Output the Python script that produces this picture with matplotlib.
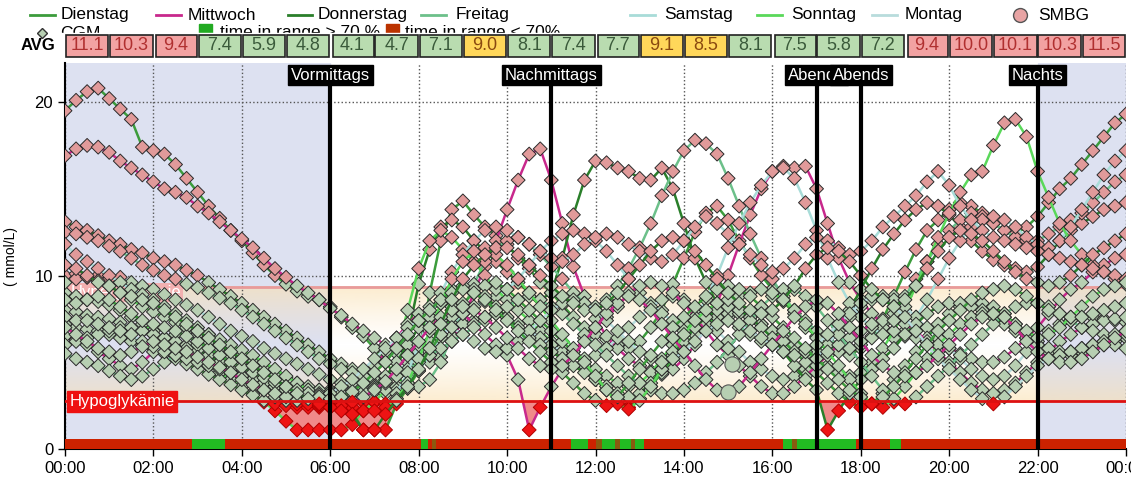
import numpy as np
import matplotlib.pyplot as plt
import matplotlib.transforms as mtransforms
from matplotlib.lines import Line2D
from matplotlib.patches import Rectangle

plt.rcParams['font.family'] = ['Liberation Sans', 'DejaVu Sans']

# Zeitraster: 15-Minuten-Werte von 00:00 bis 24:00
zeiten = np.arange(97) * 0.25

# CGM-Verläufe (mmol/L), je Stunde 4 Werte
t1 = [19.5, 20.1, 20.6, 20.8, 20.2, 19.6, 19.0, 17.4, 17.2, 17.0, 16.4, 15.6,
      14.8, 14.0, 13.3, 12.6, 12.0, 11.3, 10.6, 10.0, 9.5, 9.1, 8.8, 8.6,
      8.2, 7.6, 7.0, 6.5, 5.8, 5.0, 4.2, 3.6, 5.5, 9.0, 12.0, 13.8,
      14.3, 13.5, 12.8, 12.3, 11.8, 11.0, 10.4, 9.6, 9.0, 8.3, 7.6, 7.0,
      6.6, 6.3, 6.0, 5.8, 6.2, 7.0, 8.0, 9.5, 11.0, 12.5, 13.6, 14.0,
      13.2, 12.0, 11.0, 10.0, 9.2, 8.5, 7.8, 7.0, 6.5, 6.0, 5.6, 5.4,
      5.8, 6.5, 7.5, 8.8, 10.2, 11.5, 12.6, 13.2, 13.8, 14.2, 14.0, 13.6,
      13.0, 12.6, 12.4, 12.8, 13.4, 14.2, 15.0, 15.6, 16.4, 17.2, 18.0, 18.8,
      19.3]
t2 = [16.9, 17.3, 17.5, 17.4, 17.1, 16.6, 16.2, 15.8, 15.4, 15.0, 14.8, 14.5,
      14.0, 13.6, 13.1, 12.6, 12.1, 11.6, 11.0, 10.4, 9.9, 9.4, 9.0, 8.6,
      8.1, 7.7, 7.2, 6.8, 6.4, 6.0, 5.7, 5.4, 5.2, 5.0, 5.3, 6.2,
      7.5, 9.0, 10.5, 12.0, 13.8, 15.5, 17.0, 17.3, 15.5, 13.0, 10.5, 8.8,
      7.5, 6.5, 5.8, 5.2, 4.8, 4.5, 4.3, 4.6, 5.2, 6.0, 7.0, 8.4,
      10.0, 11.8, 13.5, 15.0, 16.0, 16.3, 16.2, 16.3, 15.0, 13.0, 11.0, 9.6,
      8.6, 7.8, 7.2, 6.8, 6.5, 6.4, 6.2, 6.0, 5.8, 5.5, 5.2, 5.0,
      5.0, 5.3, 5.8, 6.4, 7.0, 7.8, 8.6, 9.2, 9.6, 10.2, 10.6, 11.0,
      11.2]
t3 = [13.1, 12.8, 12.6, 12.3, 12.0, 11.8, 11.5, 11.3, 11.0, 10.8, 10.6, 10.3,
      10.0, 9.6, 9.2, 8.8, 8.4, 8.0, 7.6, 7.2, 6.8, 6.4, 6.0, 5.6,
      5.2, 4.9, 4.6, 4.4, 4.2, 4.0, 4.5, 6.5, 9.5, 11.5, 12.8, 13.2,
      12.8, 12.0, 11.4, 10.8, 10.2, 9.6, 9.0, 8.6, 9.0, 11.0, 13.5, 15.5,
      16.6, 16.5, 16.2, 16.0, 15.6, 15.5, 16.2, 15.0, 13.0, 11.0, 9.6, 8.4,
      7.6, 7.0, 6.6, 6.2, 6.0, 5.8, 5.6, 5.4, 5.6, 6.2, 7.0, 8.0,
      9.2, 10.4, 11.5, 12.4, 13.2, 13.8, 14.2, 14.0, 13.5, 12.8, 12.0, 11.4,
      10.9, 10.6, 10.4, 10.2, 10.5, 11.2, 12.0, 12.6, 13.0, 13.4, 13.8, 14.0,
      14.2]
t4 = [12.5, 12.4, 12.2, 12.0, 11.7, 11.4, 11.0, 10.6, 10.3, 10.0, 9.8, 9.5,
      9.3, 9.0, 8.7, 8.4, 8.0, 7.6, 7.2, 6.8, 6.4, 6.0, 5.6, 5.2,
      4.9, 4.6, 4.4, 4.2, 4.0, 3.8, 3.6, 3.5, 3.6, 4.0, 5.0, 6.5,
      8.0, 9.5, 10.8, 11.6, 12.0, 12.2, 11.8, 11.2, 10.5, 9.8, 9.0, 8.4,
      8.2, 8.6, 9.4, 10.4, 11.6, 13.0, 14.6, 16.0, 17.2, 17.8, 17.6, 17.0,
      15.6, 14.0, 12.4, 11.0, 9.8, 8.8, 8.0, 7.4, 6.8, 6.4, 6.0, 5.8,
      6.0, 6.4, 7.0, 7.8, 8.8, 9.8, 10.8, 11.8, 12.6, 13.2, 13.6, 13.4,
      13.0, 12.6, 12.2, 12.0, 12.0, 12.4, 12.8, 13.2, 13.6, 14.2, 14.8, 15.4,
      15.8]
t5 = [10.0, 10.1, 9.9, 10.0, 9.8, 9.9, 9.6, 9.4, 9.2, 8.9, 8.6, 8.3,
      8.0, 7.6, 7.2, 6.8, 6.5, 6.2, 5.8, 5.5, 5.2, 4.9, 4.6, 4.3,
      4.0, 3.8, 3.6, 3.4, 3.3, 3.2, 3.4, 3.8, 4.5, 5.4, 6.4, 7.2,
      7.8, 8.2, 8.5, 8.8, 9.2, 9.8, 10.6, 11.4, 12.0, 12.4, 12.6, 12.4,
      12.0, 11.4, 10.6, 9.8, 9.0, 8.4, 7.8, 7.4, 7.2, 7.6, 8.6, 10.0,
      11.6, 13.0, 14.2, 15.2, 16.0, 16.2, 15.6, 14.2, 12.6, 11.0, 9.6, 8.4,
      7.6, 7.0, 6.6, 6.4, 6.8, 7.6, 8.6, 9.8, 11.0, 12.0, 12.8, 13.2,
      13.4, 13.2, 12.8, 12.2, 11.8, 11.6, 12.0, 12.8, 13.8, 14.8, 15.8, 16.6,
      17.2]
t6 = [9.0, 8.8, 8.6, 8.5, 8.3, 8.0, 7.6, 7.2, 6.8, 6.4, 6.0, 5.6,
      5.2, 4.8, 4.4, 4.0, 3.6, 3.2, 2.7, 2.2, 1.6, 1.1, 1.1, 1.1,
      1.1, 1.1, 1.4, 2.2, 2.7, 3.4, 5.5, 8.0, 10.4, 12.0, 12.6, 12.2,
      11.5, 10.8, 10.0, 9.2, 8.6, 8.0, 7.4, 6.8, 6.2, 5.8, 5.4, 5.0,
      4.6, 4.2, 3.8, 3.6, 3.8, 4.4, 5.2, 6.0, 6.8, 7.4, 7.8, 8.0,
      8.2, 8.0, 7.6, 7.2, 6.8, 6.4, 6.0, 5.6, 5.2, 4.8, 4.4, 4.2,
      4.4, 5.0, 5.8, 6.8, 8.0, 9.4, 10.8, 12.2, 13.6, 14.8, 15.8, 16.0,
      17.5, 18.8, 19.0, 18.0, 16.0, 14.5, 13.0, 12.0, 11.2, 10.6, 10.2, 9.8,
      9.5]
t7 = [8.0, 7.9, 7.7, 7.6, 7.5, 7.3, 7.0, 6.8, 6.6, 6.3, 6.0, 5.8,
      5.5, 5.2, 4.9, 4.6, 4.3, 4.0, 3.7, 3.4, 3.2, 3.1, 3.0, 3.0,
      3.1, 3.2, 3.4, 3.5, 3.7, 4.0, 4.4, 5.0, 5.6, 6.2, 6.6, 7.0,
      7.2, 7.4, 7.6, 7.8, 7.6, 7.2, 6.8, 6.4, 6.0, 5.6, 5.4, 5.2,
      5.4, 5.8, 6.4, 7.0, 7.6, 8.2, 8.6, 8.8, 8.6, 8.0, 7.4, 6.8,
      6.2, 5.6, 5.0, 4.6, 4.2, 4.0, 4.2, 4.6, 5.2, 6.0, 6.8, 7.6,
      8.2, 8.6, 8.8, 8.6, 8.2, 7.6, 7.0, 6.4, 5.8, 5.2, 4.6, 4.2,
      4.0, 4.2, 4.8, 5.6, 6.2, 6.8, 7.2, 7.4, 7.6, 7.6, 7.5, 7.4,
      7.3]
t8 = [7.2, 7.0, 6.9, 6.8, 6.6, 6.4, 6.2, 6.0, 5.8, 5.5, 5.2, 4.9,
      4.6, 4.3, 4.0, 3.7, 3.4, 3.1, 2.8, 2.6, 2.5, 2.4, 2.5, 2.6,
      2.5, 2.3, 2.1, 1.1, 1.1, 1.1, 2.6, 3.5, 4.5, 5.6, 6.6, 7.6,
      8.4, 9.0, 9.4, 9.6, 9.2, 8.6, 8.0, 7.4, 6.8, 6.2, 5.6, 4.8,
      4.0, 3.4, 2.8, 2.4, 2.9, 3.6, 4.4, 5.2, 6.0, 6.6, 7.2, 7.6,
      7.8, 7.8, 7.6, 7.2, 6.8, 6.2, 5.6, 5.0, 4.4, 3.8, 3.2, 2.7,
      2.4, 2.6, 3.2, 4.0, 4.8, 5.6, 6.4, 7.2, 7.8, 8.2, 8.4, 8.4,
      8.2, 7.8, 7.2, 6.6, 6.0, 5.6, 5.4, 5.4, 5.6, 5.8, 6.0, 6.2,
      6.4]
t9 = [6.5, 6.3, 6.0, 5.6, 5.2, 4.8, 4.6, 5.0, 5.6, 6.2, 6.6, 6.8,
      6.6, 6.2, 5.8, 5.4, 5.0, 4.6, 4.3, 4.0, 3.8, 3.6, 3.5, 3.4,
      3.4, 3.5, 3.8, 4.2, 4.8, 5.6, 6.4, 7.2, 7.8, 8.2, 8.4, 8.2,
      7.8, 7.2, 6.6, 6.0, 5.4, 4.0, 1.1, 2.4, 3.6, 4.6, 5.6, 6.4,
      7.0, 7.6, 8.2, 9.0, 9.4, 9.6, 9.4, 9.0, 8.4, 7.6, 6.8, 6.0,
      5.4, 4.8, 4.2, 3.6, 3.2, 3.2, 3.6, 4.2, 4.8, 5.4, 6.0, 6.4,
      6.8, 7.2, 7.4, 7.4, 7.2, 6.8, 6.2, 5.6, 5.0, 4.4, 3.8, 3.4,
      3.2, 3.4, 3.8, 4.4, 5.0, 5.6, 6.2, 6.6, 7.0, 7.2, 7.4, 7.5,
      7.6]
t10 = [6.0, 6.2, 6.4, 6.6, 6.8, 7.0, 7.0, 6.8, 6.6, 6.4, 6.2, 6.0,
       5.7, 5.4, 5.0, 4.6, 4.2, 3.8, 3.4, 3.0, 2.8, 2.6, 2.4, 2.4,
       2.5, 2.6, 2.8, 3.2, 3.6, 4.2, 5.0, 6.0, 7.0, 7.8, 8.6, 9.2,
       9.4, 9.2, 8.8, 8.2, 7.6, 7.0, 6.4, 6.0, 5.6, 5.2, 4.8, 4.4,
       4.0, 3.6, 3.2, 3.0, 3.2, 3.8, 4.6, 5.4, 6.2, 7.0, 7.6, 8.0,
       8.2, 8.0, 7.6, 7.0, 6.4, 5.6, 4.8, 4.0, 3.4, 1.1, 2.2, 3.2,
       4.0, 4.6, 5.2, 5.8, 6.6, 7.2, 7.8, 8.2, 8.4, 8.4, 8.2, 8.0,
       7.6, 7.2, 6.8, 6.4, 6.0, 5.8, 5.6, 5.6, 5.8, 6.0, 6.2, 6.4,
       6.6]
t11 = [5.5, 5.2, 5.0, 4.8, 4.5, 4.2, 4.0, 4.2, 4.6, 5.0, 5.4, 5.8,
       6.0, 6.2, 6.0, 5.7, 5.4, 5.0, 4.7, 4.4, 4.1, 3.8, 3.6, 3.4,
       3.3, 3.2, 3.2, 3.3, 3.5, 3.8, 4.2, 4.6, 5.0, 5.4, 5.8, 6.2,
       6.6, 7.0, 7.4, 7.8, 8.2, 8.6, 8.8, 8.6, 8.2, 7.8, 7.2, 6.6,
       6.0, 5.4, 4.8, 4.2, 3.8, 3.4, 3.2, 3.2, 3.4, 3.8, 4.4, 5.0,
       5.8, 6.6, 7.4, 8.2, 8.8, 9.2, 9.2, 8.8, 8.2, 7.4, 6.6, 5.8,
       5.0, 4.2, 3.4, 2.7, 2.6, 3.0, 3.6, 4.2, 4.8, 5.4, 6.0, 6.6,
       7.2, 7.8, 8.2, 8.4, 8.4, 8.2, 7.8, 7.4, 7.0, 6.8, 6.6, 6.6,
       6.8]
t12 = [11.8, 11.2, 10.8, 10.4, 10.0, 9.6, 9.2, 8.9, 8.6, 8.2, 7.8, 7.4,
       7.0, 6.6, 6.2, 5.8, 5.4, 5.0, 4.6, 4.2, 3.9, 3.6, 3.4, 3.2,
       3.0, 2.9, 2.8, 2.7, 2.7, 2.6, 3.2, 4.4, 6.0, 7.6, 9.0, 10.2,
       11.2, 12.0, 12.6, 12.8, 12.6, 12.2, 11.8, 11.4, 11.0, 10.8, 11.2, 11.8,
       12.2, 12.4, 12.2, 11.8, 11.4, 11.0, 10.8, 11.2, 12.0, 12.8, 13.4, 13.0,
       12.4, 11.8, 11.2, 10.6, 10.2, 10.4, 11.0, 11.8, 12.2, 12.0, 11.6, 11.2,
       11.4, 12.0, 12.8, 13.4, 14.0, 14.6, 15.4, 16.0, 15.2, 14.0, 13.2, 12.6,
       12.2, 12.0, 11.8, 11.6, 11.4, 11.2, 11.0, 10.8, 10.6, 10.4, 10.2, 10.0,
       9.8]
t13 = [9.6, 9.8, 9.9, 9.7, 9.4, 9.0, 8.6, 8.2, 7.9, 7.6, 7.3, 7.0,
       6.8, 6.6, 6.3, 6.0, 5.7, 5.4, 5.0, 4.6, 4.2, 3.8, 3.4, 3.0,
       2.8, 2.6, 2.4, 2.2, 2.2, 2.4, 2.9, 3.8, 5.2, 6.8, 8.4, 9.8,
       10.8, 11.4, 11.6, 11.2, 10.6, 9.8, 9.0, 8.2, 7.4, 6.6, 5.8, 5.0,
       4.2, 3.4, 2.6, 2.3, 2.8, 3.6, 4.6, 5.6, 6.6, 7.4, 8.0, 8.4,
       8.6, 8.8, 9.0, 9.2, 9.0, 8.6, 8.0, 7.2, 6.4, 5.6, 4.8, 4.0,
       3.2, 2.6, 2.4, 2.9, 3.6, 4.4, 5.2, 6.0, 6.6, 7.2, 7.6, 7.8,
       7.8, 7.6, 7.2, 6.8, 6.4, 6.6, 7.0, 7.6, 8.2, 8.8, 9.2, 9.4,
       9.6]
t14 = [7.6, 7.4, 7.4, 7.2, 7.0, 6.8, 6.6, 6.2, 5.9, 5.6, 5.4, 5.2,
       5.0, 4.8, 4.6, 4.4, 4.2, 4.0, 3.8, 3.6, 3.4, 3.2, 3.1, 3.1,
       3.2, 3.6, 4.0, 4.6, 5.2, 5.8, 6.4, 7.0, 7.4, 7.6, 7.4, 7.0,
       6.6, 6.2, 5.8, 5.6, 5.8, 6.2, 6.8, 7.4, 8.0, 8.4, 8.6, 8.4,
       8.0, 7.4, 6.8, 6.2, 5.6, 5.2, 5.0, 5.2, 5.6, 6.2, 6.8, 7.2,
       7.4, 7.2, 6.8, 6.4, 6.0, 5.6, 5.4, 5.6, 6.0, 6.6, 7.2, 7.8,
       8.4, 8.8, 8.6, 8.2, 7.6, 6.8, 6.0, 5.2, 4.6, 4.0, 3.4, 2.9,
       2.6, 3.0, 3.6, 4.2, 4.8, 5.2, 5.4, 5.6, 5.8, 6.0, 6.2, 6.0,
       5.8]
t15 = [8.6, 8.4, 8.6, 8.8, 8.6, 8.2, 7.8, 7.4, 7.2, 7.0, 6.8, 6.5,
       6.2, 5.8, 5.4, 5.0, 4.7, 4.4, 4.1, 3.8, 3.6, 3.4, 3.2, 3.0,
       2.9, 3.0, 3.3, 3.8, 4.4, 5.0, 5.8, 6.6, 7.4, 8.0, 8.6, 9.0,
       9.2, 9.0, 8.6, 8.0, 7.4, 6.8, 6.2, 5.6, 5.0, 4.4, 3.8, 3.2,
       2.8, 2.5, 3.0, 3.8, 4.6, 5.4, 6.2, 7.0, 7.6, 8.2, 8.8, 9.2,
       9.4, 9.2, 8.8, 8.2, 7.6, 7.0, 6.4, 5.8, 5.2, 4.6, 4.0, 3.4,
       3.0, 2.6, 3.0, 3.6, 4.4, 5.2, 6.0, 6.8, 7.4, 8.0, 8.6, 9.0,
       9.2, 9.4, 9.2, 8.8, 8.4, 8.0, 7.8, 7.6, 7.6, 7.8, 8.0, 8.2,
       8.4]
t16 = [7.0, 6.6, 6.2, 5.8, 5.6, 5.4, 5.6, 5.9, 6.2, 6.0, 5.8, 5.6,
       5.3, 5.0, 4.7, 4.4, 4.0, 3.7, 3.4, 3.2, 3.0, 2.8, 2.6, 2.5,
       2.4, 2.5, 2.7, 3.0, 3.4, 3.9, 4.6, 5.4, 6.2, 7.0, 7.6, 8.0,
       8.2, 8.0, 7.6, 7.0, 6.4, 5.8, 5.2, 4.8, 4.6, 4.8, 5.4, 6.2,
       7.0, 7.8, 8.4, 8.8, 8.6, 8.0, 7.2, 6.4, 5.6, 4.8, 4.0, 3.4,
       3.2, 3.6, 4.4, 5.2, 6.0, 6.8, 7.6, 8.2, 8.6, 8.4, 7.8, 7.0,
       6.2, 5.4, 4.8, 4.4, 4.2, 4.4, 4.8, 5.4, 6.0, 6.6, 7.2, 7.6,
       7.8, 7.6, 7.0, 6.2, 5.6, 5.2, 5.0, 5.0, 5.2, 5.6, 6.0, 6.4,
       6.8]
t17 = [10.6, 10.4, 10.0, 9.6, 9.4, 9.0, 8.8, 8.6, 8.4, 8.0, 7.6, 7.2,
       6.8, 6.4, 6.0, 5.6, 5.2, 4.8, 4.4, 4.0, 3.6, 3.2, 2.9, 2.6,
       2.4, 2.2, 2.0, 1.1, 1.1, 2.0, 2.8, 3.6, 4.6, 5.8, 7.2, 8.6,
       9.8, 10.6, 11.2, 11.6, 11.6, 11.2, 10.6, 10.0, 9.4, 8.8, 8.4, 8.0,
       8.0, 8.4, 9.0, 9.8, 10.6, 11.4, 12.0, 12.2, 12.0, 11.4, 10.6, 9.8,
       9.0, 8.4, 8.0, 7.8, 8.0, 8.6, 9.4, 10.4, 11.2, 11.6, 11.4, 10.8,
       10.0, 9.2, 8.6, 8.2, 8.6, 9.4, 10.4, 11.4, 12.2, 12.6, 12.4, 12.0,
       11.4, 10.8, 10.2, 9.8, 9.6, 9.4, 9.6, 10.0, 10.6, 11.2, 11.6, 12.0,
       12.4]

verlaeufe = [t1, t2, t3, t4, t5, t6, t7, t8, t9, t10, t11, t12, t13, t14, t15, t16, t17]
verlauf_tage = [0, 1, 2, 3, 4, 5, 6, 0, 1, 2, 3, 4, 5, 6, 0, 1, 2]

tage = ["Dienstag", "Mittwoch", "Donnerstag", "Freitag", "Samstag", "Sonntag", "Montag"]
tag_farben = ["#3c9c3c", "#c8288c", "#2a7f2a", "#6cc08a", "#a8dcd8", "#5ad85a", "#b8dcdc"]

# SMBG-Messungen
smbg_zeit = [15.08, 15.0]
smbg_wert = [4.9, 3.3]

# Stundenmittelwerte
avg_werte = [11.1, 10.3, 9.4, 7.4, 5.9, 4.8, 4.1, 4.7, 7.1, 9.0, 8.1, 7.4,
             7.7, 9.1, 8.5, 8.1, 7.5, 5.8, 7.2, 9.4, 10.0, 10.1, 10.3, 11.5]
avg_gruppen_start = [2, 6, 12, 16, 19]

# Zeitabschnitte
marker_zeit = [6, 11, 17, 18, 22]
marker_text = ["Vormittags", "Nachmittags", "Abends", "Abends", "Nachts"]

# Zeit im Zielbereich (Balken unten)
balken_start = [0, 2.87, 3.62, 8.05, 8.2, 8.3, 8.4, 11.45, 11.83, 12.0, 12.15, 12.45, 12.55, 12.8, 12.9, 13.1,
                16.25, 16.45, 16.55, 17.9, 18.67, 18.9]
balken_ende = [2.87, 3.62, 8.05, 8.2, 8.3, 8.4, 11.45, 11.83, 12.0, 12.15, 12.45, 12.55, 12.8, 12.9, 13.1, 16.25,
               16.45, 16.55, 17.9, 18.67, 18.9, 24]
balken_status = ["r", "g", "r", "g", "r", "b", "r", "g", "r", "b", "g", "b", "g", "b", "g", "r",
                 "g", "b", "g", "r", "g", "r"]

hypo = 2.75
hyper = 9.35

fig = plt.figure(figsize=(11.31, 4.83), dpi=100)
ax = fig.add_axes([65 / 1131, 34 / 483, 1061 / 1131, 386 / 483])
ax.set_xlim(0, 24)
ax.set_ylim(0, 22.25)
ax.set_facecolor("white")

# Hintergrund Nacht
ax.axvspan(0, 6, color="#dde1f1", zorder=0)
ax.axvspan(22, 24, color="#dde1f1", zorder=0)

# Zielbereich als Farbverlauf
stufen = np.linspace(hypo, hyper, 200)
verlauf = np.zeros((200, 1, 4))
verlauf[:, 0, 0] = 250 / 255
verlauf[:, 0, 1] = 224 / 255
verlauf[:, 0, 2] = 176 / 255
verlauf[:, 0, 3] = 0.6 * (np.abs(stufen - 6.0) / 3.3) ** 1.2
ax.imshow(verlauf, extent=[0, 24, hypo, hyper], origin="lower", aspect="auto", zorder=0.5)

ax.grid(True, color="#555555", linestyle=":", linewidth=1, zorder=1)
ax.set_axisbelow(True)

ax.axhline(hyper, color="#e89a9a", linewidth=2, zorder=1.5)
ax.text(0.12, hyper - 0.35, "Hyperglykämie", color="white", fontsize=12, va="center", ha="left",
        bbox=dict(facecolor="#f2b0b0", edgecolor="none", pad=1.5), zorder=1.6)

# CGM-Verläufe
for i, werte in enumerate(verlaeufe):
    werte = np.array(werte)
    farbe = tag_farben[verlauf_tage[i]]
    ax.fill_between(zeiten, werte, hypo, where=werte < hypo, interpolate=True,
                    color="#f08a8a", linewidth=0, zorder=2 + i * 0.01)
    ax.plot(zeiten, werte, color=farbe, linewidth=1.8, zorder=3 + i * 0.1)
    fc = np.where(werte > 9.6, "#e19a9a", np.where(werte < hypo, "#ee1414", "#b7cfb2"))
    ec = np.where(werte < hypo, "#b00000", "#2a2a2a")
    ax.scatter(zeiten, werte, marker="D", s=50, c=fc, edgecolors=ec, linewidths=0.7,
               zorder=3.05 + i * 0.1)

ax.scatter(smbg_zeit, smbg_wert, marker="o", s=120, c="#b7cfb2", edgecolors="#555555",
           linewidths=0.8, zorder=5)

ax.axhline(hypo, color="#dd1111", linewidth=2, zorder=5.5)
ax.text(0.1, hypo, "Hypoglykämie", color="white", fontsize=12, va="center", ha="left",
        bbox=dict(facecolor="#ee1111", edgecolor="#ee1111", pad=2), zorder=6)

# Balken unten
balken_farben = {"r": "#cc2200", "g": "#22bb22", "b": "#8a5a10"}
for s, e, st in zip(balken_start, balken_ende, balken_status):
    ax.broken_barh([(s, e - s)], (0, 0.6), facecolors=balken_farben[st], zorder=6)

# Zeitabschnitte
for z, txt in zip(marker_zeit, marker_text):
    ax.vlines(z, 0, 21.5, color="black", linewidth=3, zorder=7)
    ax.text(z, 21.55, txt, color="white", fontsize=12, ha="center", va="center",
            bbox=dict(facecolor="black", edgecolor="black", pad=2), zorder=8)

ax.set_xticks(range(0, 25, 2))
ax.set_xticklabels(["%02d:00" % (h % 24) for h in range(0, 25, 2)], fontsize=12)
ax.set_yticks([0, 10, 20])
ax.set_yticklabels(["0", "10", "20"], fontsize=12)
ax.tick_params(direction="out", length=5, width=1)
for s in ["top", "right"]:
    ax.spines[s].set_visible(False)
ax.spines["left"].set_linewidth(1.5)
ax.spines["bottom"].set_linewidth(1.5)
ax.set_ylabel("( mmol/L)", fontsize=10, labelpad=12)

# Legende
zeile1 = 1 - 15 / 483
zeile2 = 1 - 33 / 483
leg_x = [(30, 55, 61), (156, 181, 188), (288, 312, 318), (421, 446, 456),
         (630, 655, 664), (757, 782, 791), (872, 897, 905)]
for (x0, x1, xt), tag, farbe in zip(leg_x, tage, tag_farben):
    fig.add_artist(Line2D([x0 / 1131, x1 / 1131], [zeile1, zeile1], color=farbe, linewidth=2))
    fig.text(xt / 1131, zeile1, tag, fontsize=12.5, va="center")
fig.add_artist(Line2D([1020 / 1131], [zeile1], marker="o", markersize=10, color="#e8a4a4",
                      markeredgecolor="#555555"))
fig.text(1038 / 1131, zeile1, "SMBG", fontsize=12.5, va="center")
fig.add_artist(Line2D([42 / 1131], [zeile2], marker="D", markersize=5, color="#b7cfb2",
                      markeredgecolor="#333333"))
fig.text(60 / 1131, zeile2, "CGM", fontsize=12.5, va="center")
fig.add_artist(Rectangle((199 / 1131, zeile2 - 0.012), 13 / 1131, 0.03, color="#22aa22"))
fig.text(220 / 1131, zeile2, "time in range > 70 %", fontsize=12.5, va="center")
fig.add_artist(Rectangle((386 / 1131, zeile2 - 0.012), 13 / 1131, 0.03, color="#bb3300"))
fig.text(405 / 1131, zeile2, "time in range < 70%", fontsize=12.5, va="center")

# AVG-Zeile
fig.add_artist(Rectangle((0.045, 1 - 58 / 483), 0.955, 25 / 483, color="white", zorder=9))
fig.text(38 / 1131, 1 - 46 / 483, "AVG", fontsize=12, fontweight="bold", ha="center", va="center",
         zorder=10)
trans = mtransforms.blended_transform_factory(ax.transData, fig.transFigure)
for h, wert in enumerate(avg_werte):
    if wert >= 9.3:
        fc, tc = "#f2a2a2", "#b03030"
    elif wert >= 8.5:
        fc, tc = "#ffd75a", "#8a4a10"
    else:
        fc, tc = "#b9dcb0", "#3a5a3a"
    links = 0.04 if h in avg_gruppen_start else 0.0
    r = Rectangle((h + links + 0.02, 1 - 57 / 483), 0.96 - links, 22 / 483, transform=trans,
                  facecolor=fc, edgecolor="#222222", linewidth=1.2, zorder=10, clip_on=False)
    fig.add_artist(r)
    fig.text(h + 0.5, 1 - 46 / 483, "%.1f" % wert, transform=trans, fontsize=13, color=tc,
             ha="center", va="center", zorder=11)

fig.savefig("out.png", dpi=100)
